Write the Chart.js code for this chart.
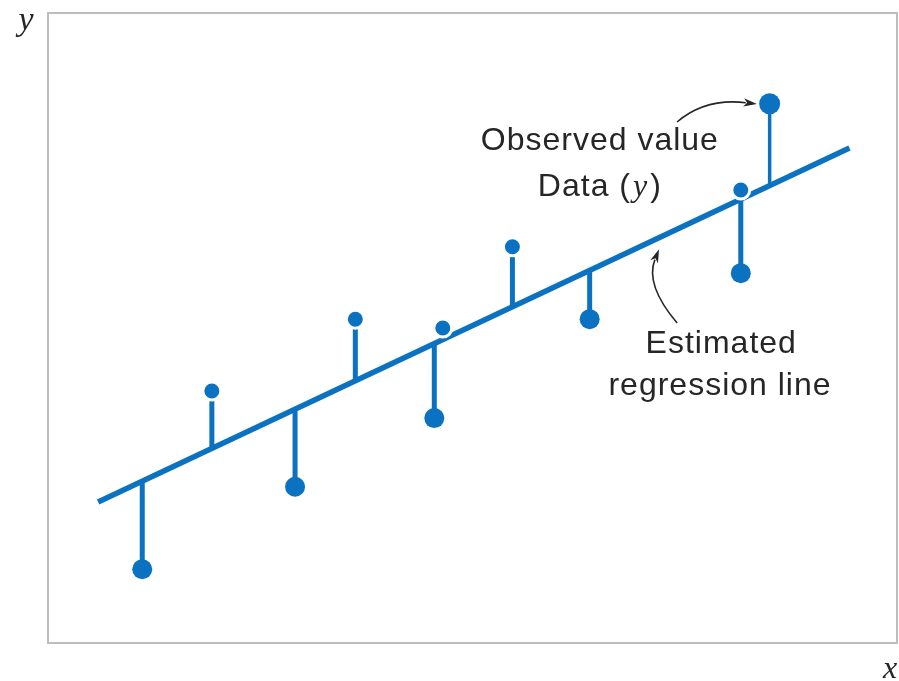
<!DOCTYPE html>
<html>
<head>
<meta charset="utf-8">
<script src="https://cdn.jsdelivr.net/npm/chart.js@4.4.1/dist/chart.umd.min.js"></script>
<style>
  html, body { margin: 0; padding: 0; background: #fff; overflow: hidden; }
  canvas { display: block; }
</style>
</head>
<body>
<canvas id="myChart" width="899" height="681"></canvas>
<script>
// observations lying above the fitted line (small markers)
const aboveX = [1.93, 3.62, 4.65, 5.47, 8.16];
const aboveY = [4.00, 5.14, 5.00, 6.29, 7.19];
// observations lying below the fitted line (large markers)
const belowX = [1.11, 2.91, 4.55, 6.38, 8.16];
const belowY = [1.17, 2.48, 3.57, 5.14, 5.87];
// the labelled observation
const labelledX = [8.50];
const labelledY = [8.56];
// estimated regression line  y = b0 + b1 * x
const b0 = 1.864;
const b1 = 0.635;
const lineX = [0.59, 9.44];

const blue = "#0b72c1";
const ink = "#262626";

function fit(x) {
  return b0 + b1 * x;
}

function toPoints(xs, ys) {
  return xs.map((x, i) => ({ x: x, y: ys[i] }));
}

// one vertical residual segment per observation
function stems(xs, ys, width) {
  return xs.map((x, i) => ({
    type: "scatter",
    showLine: true,
    data: [{ x: x, y: fit(x) }, { x: x, y: ys[i] }],
    borderColor: blue,
    borderWidth: width,
    pointRadius: 0,
    order: 2,
  }));
}

const datasets = [
  {
    label: "above",
    data: toPoints(aboveX, aboveY),
    backgroundColor: blue,
    borderColor: "#ffffff",
    borderWidth: 3,
    pointRadius: 9,
    order: 0,
  },
  {
    label: "below",
    data: toPoints(belowX, belowY),
    backgroundColor: blue,
    borderWidth: 0,
    pointRadius: 10,
    order: 0,
  },
  {
    label: "observed",
    data: toPoints(labelledX, labelledY),
    backgroundColor: blue,
    borderWidth: 0,
    pointRadius: 10.5,
    order: 0,
  },
  {
    type: "scatter",
    label: "fit",
    showLine: true,
    data: lineX.map((x) => ({ x: x, y: fit(x) })),
    borderColor: blue,
    borderWidth: 5.5,
    pointRadius: 0,
    order: 3,
  },
]
  .concat(stems(aboveX, aboveY, 5))
  .concat(stems(belowX, belowY, 5))
  .concat(stems(labelledX, labelledY, 3.5));

function curvedArrow(ctx, p0, c, p1) {
  ctx.save();
  ctx.strokeStyle = ink;
  ctx.fillStyle = ink;
  ctx.lineWidth = 1.6;
  const ang = Math.atan2(p1.y - c.y, p1.x - c.x);
  const len = 14;
  const back = { x: p1.x - Math.cos(ang) * len * 0.8, y: p1.y - Math.sin(ang) * len * 0.8 };
  ctx.beginPath();
  ctx.moveTo(p0.x, p0.y);
  ctx.quadraticCurveTo(c.x, c.y, back.x, back.y);
  ctx.stroke();
  ctx.beginPath();
  ctx.moveTo(p1.x, p1.y);
  ctx.lineTo(p1.x - Math.cos(ang - 0.3) * len, p1.y - Math.sin(ang - 0.3) * len);
  ctx.lineTo(p1.x - Math.cos(ang) * len * 0.7, p1.y - Math.sin(ang) * len * 0.7);
  ctx.lineTo(p1.x - Math.cos(ang + 0.3) * len, p1.y - Math.sin(ang + 0.3) * len);
  ctx.closePath();
  ctx.fill();
  ctx.restore();
}

const notesPlugin = {
  id: "notes",
  afterDraw(chart) {
    const ctx = chart.ctx;
    const a = chart.chartArea;
    const sx = chart.scales.x;
    const sy = chart.scales.y;
    const P = (x, y) => ({ x: sx.getPixelForValue(x), y: sy.getPixelForValue(y) });

    // frame
    ctx.save();
    ctx.strokeStyle = "#bdbdbd";
    ctx.lineWidth = 2;
    ctx.strokeRect(a.left, a.top, a.right - a.left, a.bottom - a.top);

    const sans = "32px 'Liberation Sans', Arial, sans-serif";
    const serifIt = "italic 32px 'Liberation Serif', 'Times New Roman', serif";
    ctx.fillStyle = ink;
    ctx.textBaseline = "alphabetic";
    ctx.textAlign = "center";
    ctx.font = sans;
    ctx.letterSpacing = "1px";

    let p = P(6.50, 7.825);
    ctx.fillText("Observed value", p.x, p.y);
    p = P(7.93, 4.603);
    ctx.fillText("Estimated", p.x, p.y);
    p = P(7.915, 3.94);
    ctx.fillText("regression line", p.x, p.y);

    // "Data (y)" with an italic y
    p = P(6.50, 7.10);
    ctx.textAlign = "left";
    const parts = [["Data (", sans], ["y", serifIt], [")", sans]];
    let total = 0;
    parts.forEach(([t, f]) => { ctx.font = f; total += ctx.measureText(t).width + (t === "y" ? 4 : 0); });
    let cx = p.x - total / 2;
    parts.forEach(([t, f]) => {
      ctx.font = f;
      ctx.fillText(t, cx + (t === "y" ? 2 : 0), p.y);
      cx += ctx.measureText(t).width + (t === "y" ? 4 : 0);
    });

    // axis letters
    ctx.letterSpacing = "0px";
    ctx.textAlign = "center";
    ctx.font = "italic 34px 'Liberation Serif', 'Times New Roman', serif";
    ctx.fillText("y", a.left - 22, a.top + 17);
    ctx.font = serifIt;
    ctx.fillText("x", a.right - 7, a.bottom + 35);
    ctx.restore();

    curvedArrow(ctx, P(7.41, 8.27), P(7.74, 8.651), P(8.35, 8.556));
    curvedArrow(ctx, P(7.41, 5.079), P(7.03, 5.683), P(7.197, 6.25));
  },
};

new Chart(document.getElementById("myChart"), {
  type: "scatter",
  data: { datasets: datasets },
  options: {
    responsive: false,
    animation: false,
    layout: { autoPadding: false, padding: { left: 48, top: 13, right: 2, bottom: 38 } },
    scales: {
      x: { type: "linear", min: 0, max: 10, display: false },
      y: { type: "linear", min: 0, max: 10, display: false },
    },
    plugins: {
      legend: { display: false },
      tooltip: { enabled: false },
    },
  },
  plugins: [notesPlugin],
});
</script>
</body>
</html>
